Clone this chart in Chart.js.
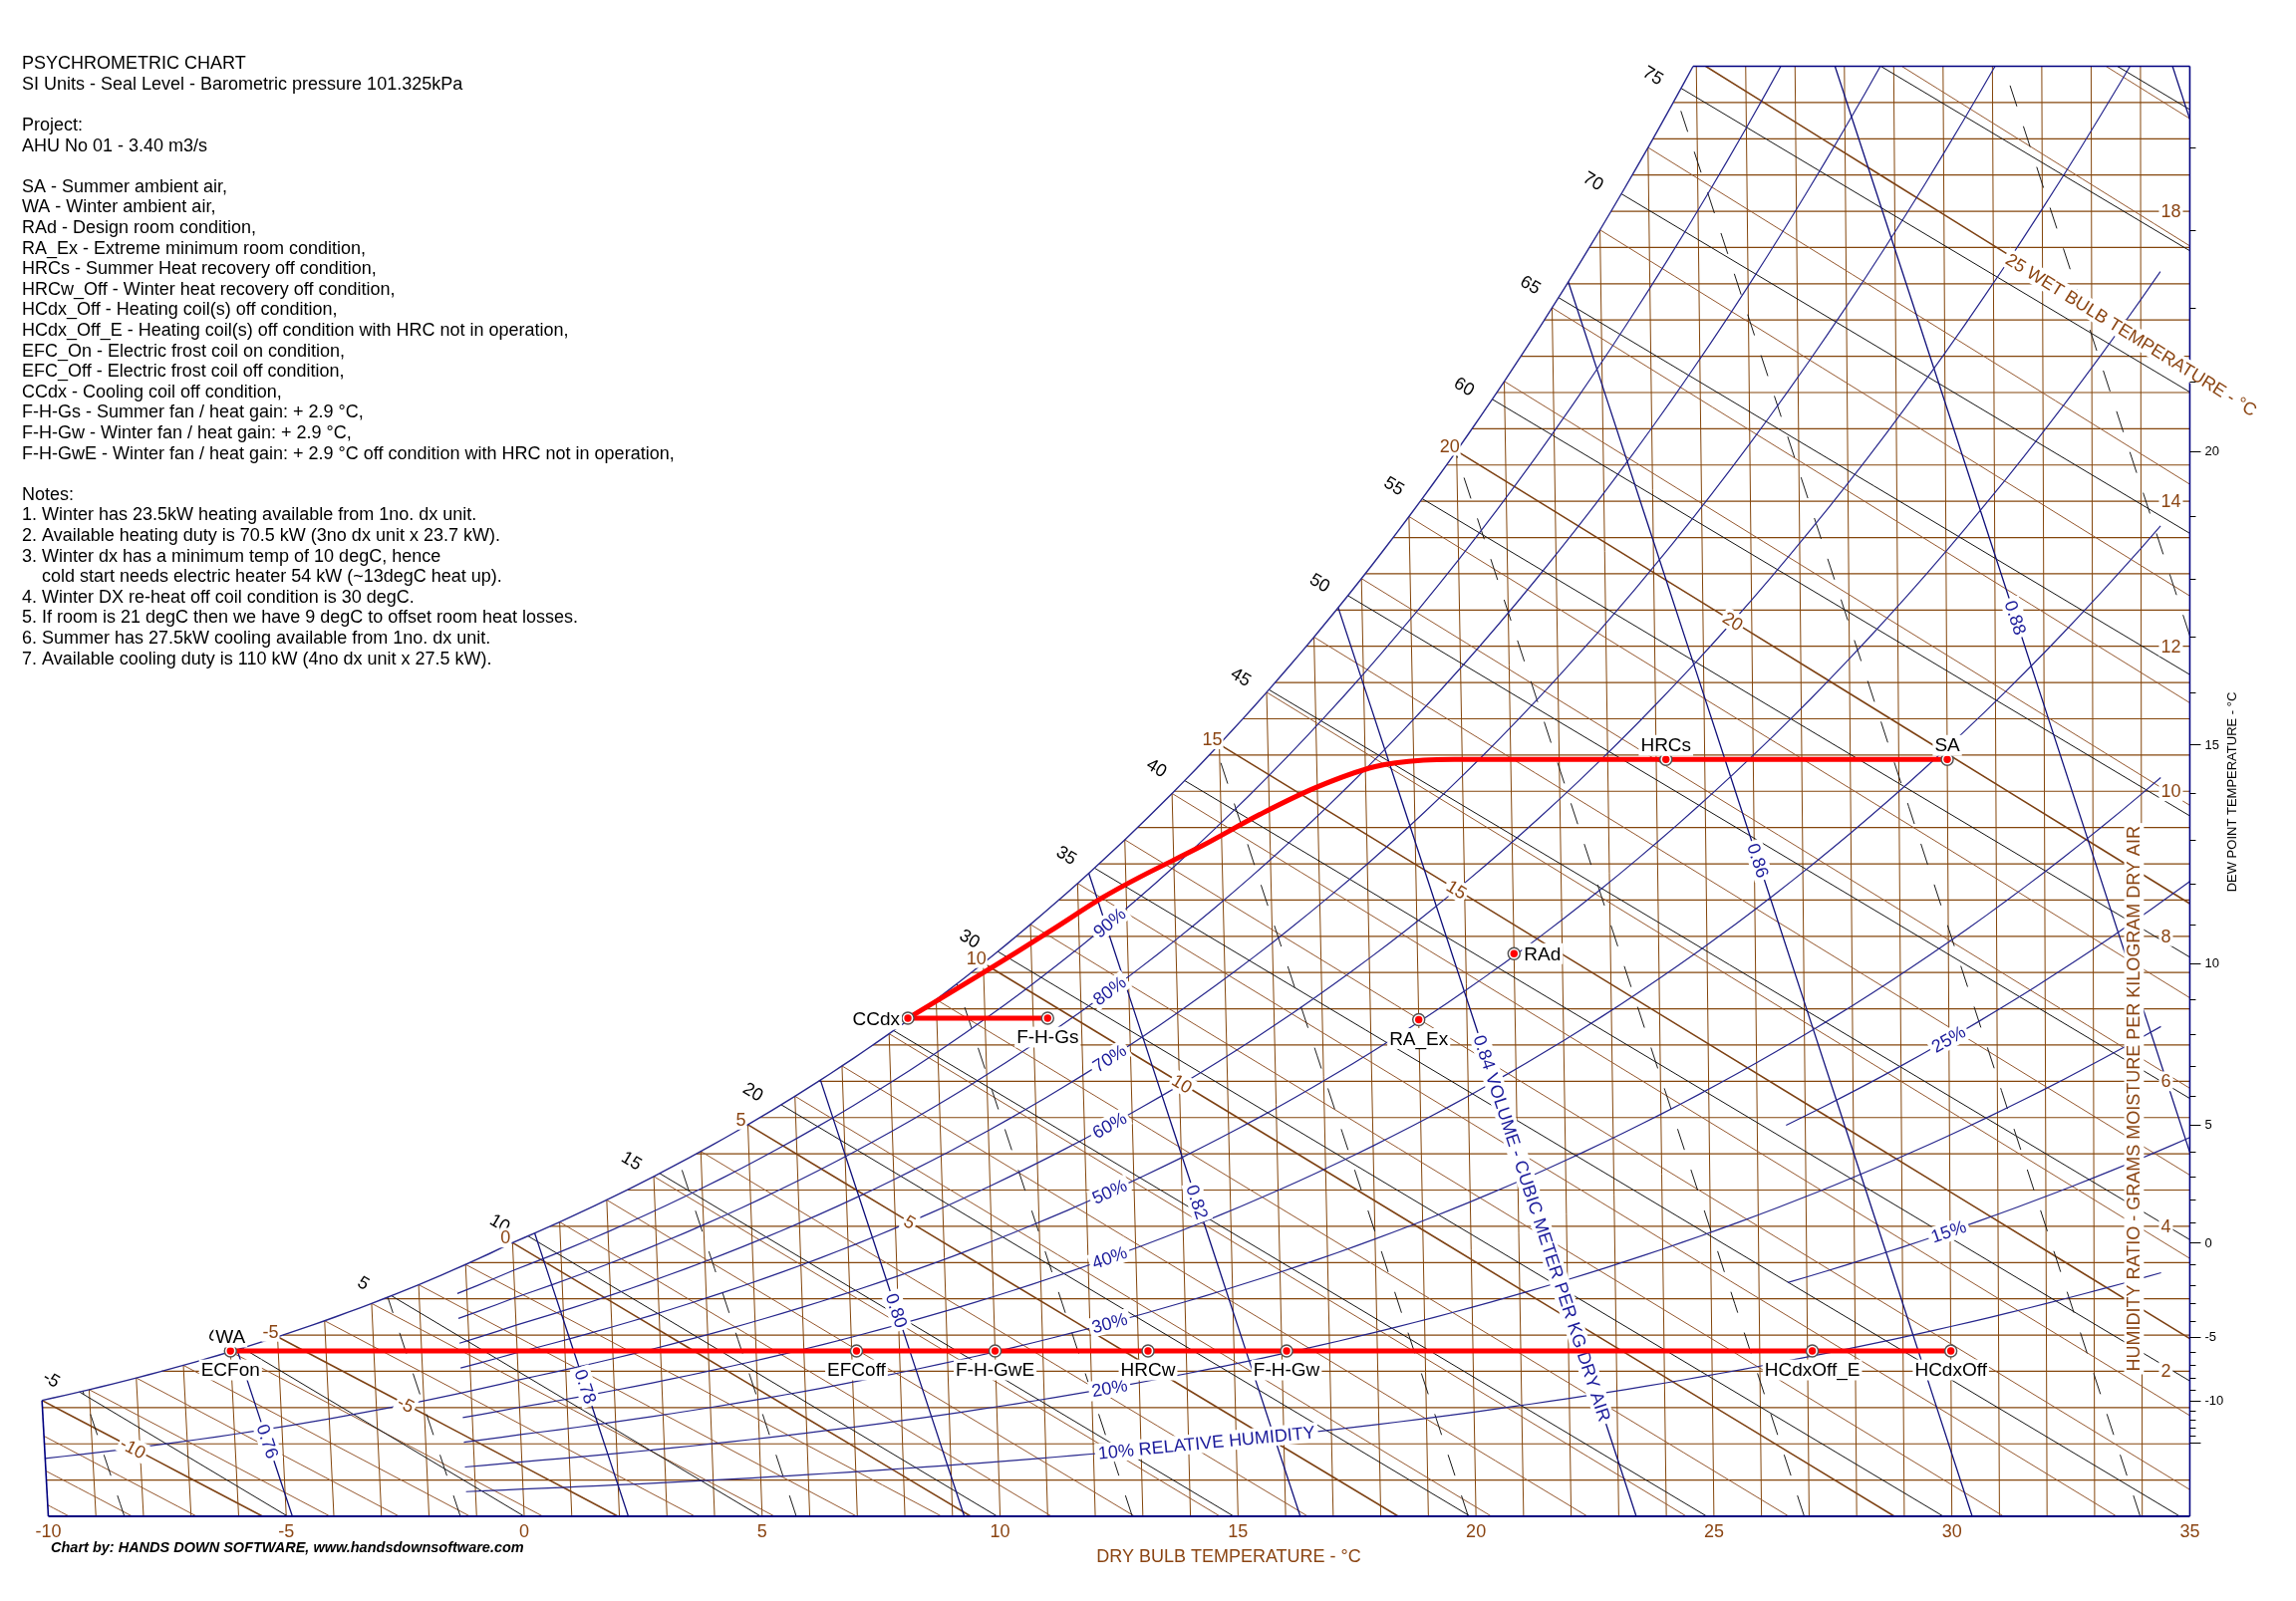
<!DOCTYPE html>
<html><head><meta charset="utf-8">
<script src="https://cdn.jsdelivr.net/npm/chart.js@4.4.1/dist/chart.umd.min.js"></script>
<style>html,body{margin:0;padding:0;background:#fff;}canvas{display:block;}</style>
</head><body>
<canvas id="c" width="2304" height="1607" style="width:2304px;height:1607px"></canvas>
<script>
// ---------------- DATA ----------------
const dryBulbTicks = [-10, -5, 0, 5, 10, 15, 20, 25, 30, 35];
const humidityRatioTicks = [2, 4, 6, 8, 10, 12, 14, 18];
const dewPointTicks = [-10, -5, 0, 5, 10, 15, 20];
const rhLevels = [10, 20, 30, 40, 50, 60, 70, 80, 90];
const rhPartialLevels = [15, 25];
const enthalpyLabels = [-5, 0, 5, 10, 15, 20, 30, 35, 40, 45, 50, 55, 60, 65, 70, 75];
const wetBulbCurveLabels = [-5, 0, 5, 10, 15, 20];
const wetBulbInlineLabels = [-10, -5, 5, 10, 15, 20];
const volumeSolid = [0.76, 0.78, 0.80, 0.82, 0.84, 0.86, 0.88, 0.90];
const volumeDashed = [0.75, 0.77, 0.79, 0.81, 0.83, 0.85, 0.87, 0.89];

// process states: dry bulb (°C) and humidity ratio (g/kg)
const summerNames = ['SA', 'HRCs'];
const summerT = [30.0, 24.2];
const summerW = [10.44, 10.44];
const coilT = [20.3, 19.2, 18.2, 17.0, 15.8, 14.6, 13.3, 12.5, 11.4, 10.0, 8.4];
const coilW = [10.44, 10.43, 10.34, 10.06, 9.68, 9.25, 8.82, 8.53, 8.07, 7.50, 6.87];
const fanNames = ['CCdx', 'F-H-Gs'];
const fanT = [8.4, 11.3];
const fanW = [6.87, 6.87];
const roomNames = ['RAd', 'RA_Ex'];
const roomT = [21.0, 19.0];
const roomW = [7.76, 6.85];
const winterNames = ['WA', 'EFCoff', 'F-H-GwE', 'HRCw', 'F-H-Gw', 'HCdxOff_E', 'HCdxOff'];
const winterT = [-6.0, 7.1, 10.0, 13.2, 16.1, 27.1, 30.0];
const winterW = [2.28, 2.28, 2.28, 2.28, 2.28, 2.28, 2.28];

const infoLines = [
 'PSYCHROMETRIC CHART',
 'SI Units - Seal Level - Barometric pressure 101.325kPa',
 '',
 'Project:',
 'AHU No 01 - 3.40 m3/s',
 '',
 'SA - Summer ambient air,',
 'WA - Winter ambient air,',
 'RAd - Design room condition,',
 'RA_Ex - Extreme minimum room condition,',
 'HRCs - Summer Heat recovery off condition,',
 'HRCw_Off - Winter heat recovery off condition,',
 'HCdx_Off - Heating coil(s) off condition,',
 'HCdx_Off_E - Heating coil(s) off condition with HRC not in operation,',
 'EFC_On - Electric frost coil on condition,',
 'EFC_Off - Electric frost coil off condition,',
 'CCdx - Cooling coil off condition,',
 'F-H-Gs - Summer fan / heat gain: + 2.9 °C,',
 'F-H-Gw - Winter fan / heat gain: + 2.9 °C,',
 'F-H-GwE - Winter fan / heat gain: + 2.9 °C off condition with HRC not in operation,',
 '',
 'Notes:',
 '1. Winter has 23.5kW heating available from 1no. dx unit.',
 '2. Available heating duty is 70.5 kW (3no dx unit x 23.7 kW).',
 '3. Winter dx has a minimum temp of 10 degC, hence',
 '    cold start needs electric heater 54 kW (~13degC heat up).',
 '4. Winter DX re-heat off coil condition is 30 degC.',
 '5. If room is 21 degC then we have 9 degC to offset room heat losses.',
 '6. Summer has 27.5kW cooling available from 1no. dx unit.',
 '7. Available cooling duty is 110 kW (4no dx unit x 27.5 kW).'
];

// ---------------- psychrometric relations (chart construction) ----------------
const Pa = 101325;
function pws(T){
  const K = T + 273.15;
  if (T >= 0) return Math.exp(-5.8002206e3/K + 1.3914993 - 4.8640239e-2*K + 4.1764768e-5*K*K - 1.4452093e-8*K*K*K + 6.5459673*Math.log(K));
  return Math.exp(-5.6745359e3/K + 6.3925247 - 9.677843e-3*K + 6.2215701e-7*K*K + 2.0747825e-9*K*K*K - 9.484024e-13*K*K*K*K + 4.1635019*Math.log(K));
}
function wsat(T){ const p = pws(T); return 621.945*p/(Pa-p); }
function wRH(T, phi){ const p = phi*pws(T); return 621.945*p/(Pa-p); }
const SK = 1.86/1.006/1000;              // oblique chart skew of dry-bulb lines
function xpOf(T, W){ return T + SK*W*(T-35); }
function pt(T, W){ return {x: xpOf(T, W), y: W}; }
function bisect(f, a, b){ let fa = f(a); for (let i=0;i<70;i++){ const m=0.5*(a+b), fm=f(m); if ((fm>0)===(fa>0)){a=m;fa=fm;} else b=m; } return 0.5*(a+b); }
function tdp(W){ return bisect(T => wsat(T)-W, -40, 40); }
function wbW(T, twb){
  const ws = wsat(twb)/1000; let w;
  if (twb >= 0) w = ((2501-2.326*twb)*ws - 1.006*(T-twb))/(2501 + 1.86*T - 4.186*twb);
  else w = ((2830-0.24*twb)*ws - 1.006*(T-twb))/(2830 + 1.86*T - 2.1*twb);
  return w*1000;
}
function hOf(T, W){ return 1.006*T + W/1000*(2501 + 1.86*T); }
function Tv(v, W){ return v*Pa/(287.042*(1 + 1.607858*W/1000)) - 273.15; }
const T20 = tdp(20);
const WSm10 = wsat(-10);

// ---------------- styles ----------------
const FONT = '"Liberation Sans", Arial, Helvetica, sans-serif';
const BROWN_TXT = '#8b4513';
const GRID_BROWN = '#84460c';
const WB_BROWN = '#95582f';
const WB_DARK = '#7e4214';
const NAVY = '#26268c';
const BORDER = '#000080';
const LABEL_NAVY = '#1a1a9a';

const datasets = [];
function line(data, color, width, order, extra){
  datasets.push(Object.assign({data, borderColor: color, backgroundColor: color, borderWidth: width,
    showLine: true, pointRadius: 0, pointHoverRadius: 0, fill: false, tension: 0, order}, extra || {}));
}

// dry bulb lines
for (let T=-9; T<=34; T++){ line([pt(T,0), pt(T, Math.min(wsat(T),20))], GRID_BROWN, 1, 16); }
// humidity ratio lines
for (let k=1; k<40; k++){ const W=k*0.5; const T0 = W <= WSm10 ? -10 : tdp(W); line([pt(T0,W), pt(35,W)], GRID_BROWN, 1.2, 15); }
// wet bulb lines
for (let twb=-13; twb<=27; twb++){
  let T0, W0;
  if (twb >= -10){ T0 = twb; W0 = wsat(twb); } else { T0 = -10; W0 = wbW(-10, twb); if (W0 <= 0.02) continue; }
  if (W0 > 20){ T0 = bisect(T => wbW(T,twb)-20, twb, 60); W0 = 20; if (T0 >= 35) continue; }
  let Te = bisect(T => wbW(T,twb), T0, 90); if (Te > 35) Te = 35;
  const pts = [];
  for (let i=0;i<=8;i++){ const T = T0 + (Te-T0)*i/8; pts.push(pt(T, i===0 ? W0 : Math.max(0, wbW(T,twb)))); }
  const major = (twb % 5 === 0);
  line(pts, major ? WB_DARK : WB_BROWN, major ? 1.6 : 1, 14);
}
// enthalpy lines
for (let h=-5; h<=95; h+=5){
  let Ts = bisect(T => hOf(T, wsat(T))-h, -40, 45), Ws = wsat(Ts);
  if (Ts < -10){ Ts = -10; Ws = (h+10.06)/(2501-18.6)*1000; if (Ws <= 0) continue; }
  if (Ws > 20){ Ws = 20; Ts = (h-0.02*2501)/(1.006+0.0372); if (Ts >= 35) continue; }
  let Te = h/1.006, We = 0; if (Te > 35){ Te = 35; We = (h-35.21)/(2501+65.1)*1000; }
  line([pt(Ts,Ws), pt(Te,We)], '#141414', 1, 13);
}
// specific volume lines
function volTop(v){ return bisect(W => wsat(Tv(v,W))-W, 0, 40); }
function volLine(v, dashed){
  let Wb = 0; if (Tv(v,0) > 35) Wb = ((v*Pa/(287.042*308.15)) - 1)/1.607858*1000;
  let Wt = volTop(v); if (Wt > 20) Wt = 20;
  if (Wb >= Wt) return;
  const pts = []; for (let i=0;i<=10;i++){ const W = Wb + (Wt-Wb)*i/10; pts.push(pt(Tv(v,W), W)); }
  if (dashed) line(pts, '#1a1a1a', 1, 12, {borderDash: [22, 21]});
  else line(pts, '#10107a', 1.3, 12);
}
volumeDashed.forEach(v => volLine(v, true));
volumeSolid.forEach(v => volLine(v, false));
// relative humidity lines
for (const phi of rhLevels){
  const Ts = phi === 50 ? -10 : -1.2; const pts = [];
  for (let T=Ts; T < 34.4-1e-9; T += 0.4) pts.push(pt(T, wRH(T, phi/100)));
  pts.push(pt(34.4, wRH(34.4, phi/100)));
  line(pts, NAVY, 1.2, 11);
}
for (const phi of rhPartialLevels){
  const pts = []; for (let T=26.6; T < 35-1e-9; T += 0.4) pts.push(pt(T, wRH(T, phi/100)));
  pts.push(pt(35, wRH(35, phi/100)));
  line(pts, NAVY, 1.2, 11);
}
// saturation curve and frame
const sat = []; for (let T=-10; T<T20; T+=0.25) sat.push(pt(T, wsat(T))); sat.push(pt(T20, 20));
line(sat, NAVY, 1.4, 10, {clip: false});
line([pt(-10,0), pt(-10,WSm10)], BORDER, 1.6, 10, {clip: false});
line([pt(-10,0), pt(35,0)], BORDER, 1.8, 10, {clip: false});
line([pt(35,0), pt(35,20)], BORDER, 1.6, 10, {clip: false});
line([pt(T20,20), pt(35,20)], BORDER, 1.6, 10, {clip: false});

// ---------------- process lines ----------------
const processStart = datasets.length;
const summerPath = summerT.map((T,i) => pt(T, summerW[i])).concat(coilT.map((T,i) => pt(T, coilW[i])));
line(summerPath, '#ff0000', 5, 2, {tension: 0.35, borderCapStyle: 'round', borderJoinStyle: 'round', clip: false});
line(fanT.map((T,i) => pt(T, fanW[i])), '#ff0000', 5, 2, {borderCapStyle: 'round', clip: false});
line([pt(winterT[0], winterW[0]), pt(winterT[winterT.length-1], winterW[winterW.length-1])], '#ff0000', 5, 2, {borderCapStyle: 'round', clip: false});

const markers = [];
summerT.forEach((T,i) => markers.push({name: summerNames[i], T, W: summerW[i]}));
fanT.forEach((T,i) => markers.push({name: fanNames[i], T, W: fanW[i]}));
roomT.forEach((T,i) => markers.push({name: roomNames[i], T, W: roomW[i]}));
winterT.forEach((T,i) => markers.push({name: winterNames[i], T, W: winterW[i]}));
const markerPts = markers.map(m => pt(m.T, m.W));
datasets.push({data: markerPts, showLine: false, pointRadius: 6, pointHoverRadius: 6, backgroundColor: '#ffffff', borderColor: '#505050', borderWidth: 1.4, order: 1, clip: false});
datasets.push({data: markerPts, showLine: false, pointRadius: 3.7, pointHoverRadius: 3.7, backgroundColor: '#ff0000', borderColor: '#ff0000', borderWidth: 0, order: 0, clip: false});

// label placement of each process state
const labelPlacement = {SA:'above', HRCs:'above', CCdx:'left', 'F-H-Gs':'below', RAd:'right', RA_Ex:'below',
  WA:'above', EFCoff:'below', 'F-H-GwE':'below', HRCw:'below', 'F-H-Gw':'below', HCdxOff_E:'below', HCdxOff:'below'};
const extraLabels = [{name: 'ECFon', T: winterT[0], W: winterW[0], place: 'below'}];

// ---------------- drawing helpers ----------------
function drawText(ctx, text, x, y, o){
  ctx.save();
  ctx.translate(x, y);
  if (o.angle) ctx.rotate(o.angle);
  const size = o.size || 18;
  ctx.font = (o.style ? o.style + ' ' : '') + size + 'px ' + FONT;
  const w = ctx.measureText(text).width;
  const x0 = o.align === 'left' ? 0 : (o.align === 'right' ? -w : -w/2);
  const dy = o.dy || 0;
  if (o.bg){ const p = (o.pad === undefined ? 3 : o.pad); ctx.fillStyle = '#ffffff'; ctx.fillRect(x0-p, dy - size*0.55, w+2*p, size*1.1); }
  ctx.fillStyle = o.color || '#000';
  ctx.textAlign = 'left'; ctx.textBaseline = 'middle';
  ctx.fillText(text, x0, dy + 1);
  ctx.restore();
}
function mk(chart){
  const xs = chart.scales.x, ys = chart.scales.y;
  return {
    toPx: (T, W) => ({x: xs.getPixelForValue(xpOf(T, W)), y: ys.getPixelForValue(W)}),
    xPix: v => xs.getPixelForValue(v), yPix: v => ys.getPixelForValue(v)
  };
}
const ang = (a, b) => Math.atan2(b.y - a.y, b.x - a.x);
function anchorT(xpTarget, wf){ let T = xpTarget; for (let i=0;i<5;i++){ const W = wf(T); T = xpTarget + SK*W*(35-T); } return T; }

function drawGridLabels(chart){
  const ctx = chart.ctx; const {toPx, xPix, yPix} = mk(chart);
  // enthalpy labels
  for (const h of enthalpyLabels){
    const Ts = bisect(T => hOf(T, wsat(T))-h, -40, 45), Ws = wsat(Ts);
    const s = toPx(Ts, Ws), e = toPx(h/1.006, 0);
    drawText(ctx, String(h), s.x-28, s.y-13, {angle: ang(s,e), color: '#000', size: 18});
  }
  // wet bulb labels along the lines
  for (const t of wetBulbInlineLabels){
    const phi = t < 0 ? 0.5 : 0.6;
    const Te = Math.min(35, bisect(T => wbW(T,t), t, 90));
    const T = bisect(T => wbW(T,t) - wRH(T,phi), t+1e-6, Te);
    const p = toPx(T, wbW(T,t)), q = toPx(T+1, wbW(T+1,t));
    drawText(ctx, String(t), p.x, p.y, {angle: ang(p,q), color: BROWN_TXT, size: 18, bg: true, pad: 2});
  }
  // wet bulb labels at the saturation curve
  for (const t of wetBulbCurveLabels){
    const s = toPx(t, wsat(t));
    drawText(ctx, String(t), s.x-7, s.y-5, {color: BROWN_TXT, size: 18, bg: true, pad: 1});
  }
  // relative humidity labels
  for (const phi of rhLevels){
    const wf = T => wRH(T, phi/100);
    if (phi === 10){
      const T = anchorT(12.06, wf); const a = toPx(T, wf(T)), b = toPx(T+4, wf(T+4));
      drawText(ctx, '10% RELATIVE HUMIDITY', a.x, a.y, {angle: ang(a,b), color: LABEL_NAVY, size: 18, bg: true, pad: 3, align: 'left'});
      continue;
    }
    const T = anchorT(12.3, wf); const p = toPx(T, wf(T));
    const a = toPx(T-0.4, wf(T-0.4)), b = toPx(T+0.4, wf(T+0.4));
    drawText(ctx, phi + '%', p.x, p.y, {angle: ang(a,b), color: LABEL_NAVY, size: 18, bg: true, pad: 3});
  }
  for (const phi of rhPartialLevels){
    const wf = T => wRH(T, phi/100);
    const T = anchorT(29.93, wf); const p = toPx(T, wf(T));
    const a = toPx(T-0.4, wf(T-0.4)), b = toPx(T+0.4, wf(T+0.4));
    drawText(ctx, phi + '%', p.x, p.y, {angle: ang(a,b), color: LABEL_NAVY, size: 18, bg: true, pad: 3});
  }
  // specific volume labels
  for (const v of volumeSolid){
    if (v > 0.885) continue;
    const special = Math.abs(v-0.84) < 1e-6;
    const phi = special ? 0.45 : 0.43;
    const Wt = volTop(v);
    const W = bisect(W => W - wRH(Tv(v,W), phi), 0, Wt);
    const p = toPx(Tv(v,W), W);
    const a = toPx(Tv(v,W+0.3), W+0.3), b = toPx(Tv(v,W-0.3), W-0.3);
    drawText(ctx, special ? '0.84 VOLUME - CUBIC METER PER KG DRY AIR' : v.toFixed(2), p.x, p.y,
      {angle: ang(a,b), color: LABEL_NAVY, size: 18, bg: true, pad: 3, align: special ? 'left' : 'center'});
  }
  // humidity ratio values at the right
  const xr = xPix(35);
  for (const W of humidityRatioTicks){
    drawText(ctx, String(W), xr-29, yPix(W), {color: BROWN_TXT, size: 18, bg: true, pad: 2, align: 'left'});
  }
  drawText(ctx, 'HUMIDITY RATIO - GRAMS MOISTURE PER KILOGRAM DRY AIR', xr-56, yPix(5.76),
    {angle: -Math.PI/2, color: BROWN_TXT, size: 18, bg: true, pad: 3});
  // wet bulb axis title along the 25 °C wet bulb line
  const T25 = anchorT(31.2, T => wbW(T, 25));
  const p25 = toPx(T25, wbW(T25, 25)), q25 = toPx(T25+1, wbW(T25+1, 25));
  drawText(ctx, '25 WET BULB TEMPERATURE - °C', p25.x, p25.y, {angle: ang(p25,q25), color: BROWN_TXT, size: 18, bg: true, pad: 3, align: 'left', dy: 3});
}

function drawPointLabels(chart){
  const ctx = chart.ctx; const {toPx} = mk(chart);
  const all = markers.map(m => ({name: m.name, T: m.T, W: m.W, place: labelPlacement[m.name]})).concat(extraLabels);
  for (const m of all){
    const p = toPx(m.T, m.W); const o = {color: '#000', size: 19, bg: true, pad: 2};
    if (m.place === 'above') drawText(ctx, m.name, p.x, p.y-14, o);
    else if (m.place === 'below') drawText(ctx, m.name, p.x, p.y+19, o);
    else if (m.place === 'left') drawText(ctx, m.name, p.x-8, p.y+1, Object.assign(o, {align: 'right'}));
    else drawText(ctx, m.name, p.x+10, p.y, Object.assign(o, {align: 'left'}));
  }
}

function drawFrameText(chart){
  const ctx = chart.ctx; const {xPix, yPix} = mk(chart);
  for (const T of dryBulbTicks) drawText(ctx, String(T), xPix(T), 1537, {color: BROWN_TXT, size: 18});
  drawText(ctx, 'DRY BULB TEMPERATURE - °C', 1233, 1562, {color: BROWN_TXT, size: 18});
  drawText(ctx, 'Chart by: HANDS DOWN SOFTWARE, www.handsdownsoftware.com', 51, 1553, {color: '#000', size: 14.5, style: 'italic bold', align: 'left'});
  infoLines.forEach((s, i) => { if (s) drawText(ctx, s, 22, 63.2 + 20.6*i, {color: '#000', size: 18, align: 'left'}); });
  // dew point scale
  const xr = xPix(35);
  ctx.save(); ctx.strokeStyle = '#000'; ctx.lineWidth = 1;
  for (let d=-15; d<=24; d++){
    const y = Math.round(yPix(wsat(d))) + 0.5; const major = (d % 5 === 0);
    ctx.beginPath(); ctx.moveTo(xr, y); ctx.lineTo(xr + (major ? 11 : 6), y); ctx.stroke();
  }
  ctx.restore();
  for (const d of dewPointTicks) drawText(ctx, String(d), xr+15, yPix(wsat(d)), {color: '#000', size: 13, align: 'left'});
  drawText(ctx, 'DEW POINT TEMPERATURE - °C', 2239, 795, {angle: -Math.PI/2, color: '#000', size: 13});
}

const labelPlugin = {
  id: 'psyLabels',
  beforeDraw(chart){ chart.$gridLabelsDone = false; },
  beforeDatasetDraw(chart, args){ if (!chart.$gridLabelsDone && args.index >= processStart){ chart.$gridLabelsDone = true; drawGridLabels(chart); } },
  afterDatasetsDraw(chart){ if (!chart.$gridLabelsDone){ chart.$gridLabelsDone = true; drawGridLabels(chart); } drawPointLabels(chart); },
  afterDraw(chart){ drawFrameText(chart); }
};

new Chart(document.getElementById('c'), {
  type: 'scatter',
  data: {datasets},
  options: {
    responsive: false, animation: false, events: [], devicePixelRatio: 1,
    layout: {padding: {left: 24.62, right: 82.68, top: 66.5, bottom: 85}},
    scales: {
      x: {type: 'linear', min: -10.5, max: 35.5, display: false},
      y: {type: 'linear', min: 0, max: 20, display: false}
    },
    plugins: {legend: {display: false}, tooltip: {enabled: false}, title: {display: false}}
  },
  plugins: [labelPlugin]
});
</script>
</body></html>
